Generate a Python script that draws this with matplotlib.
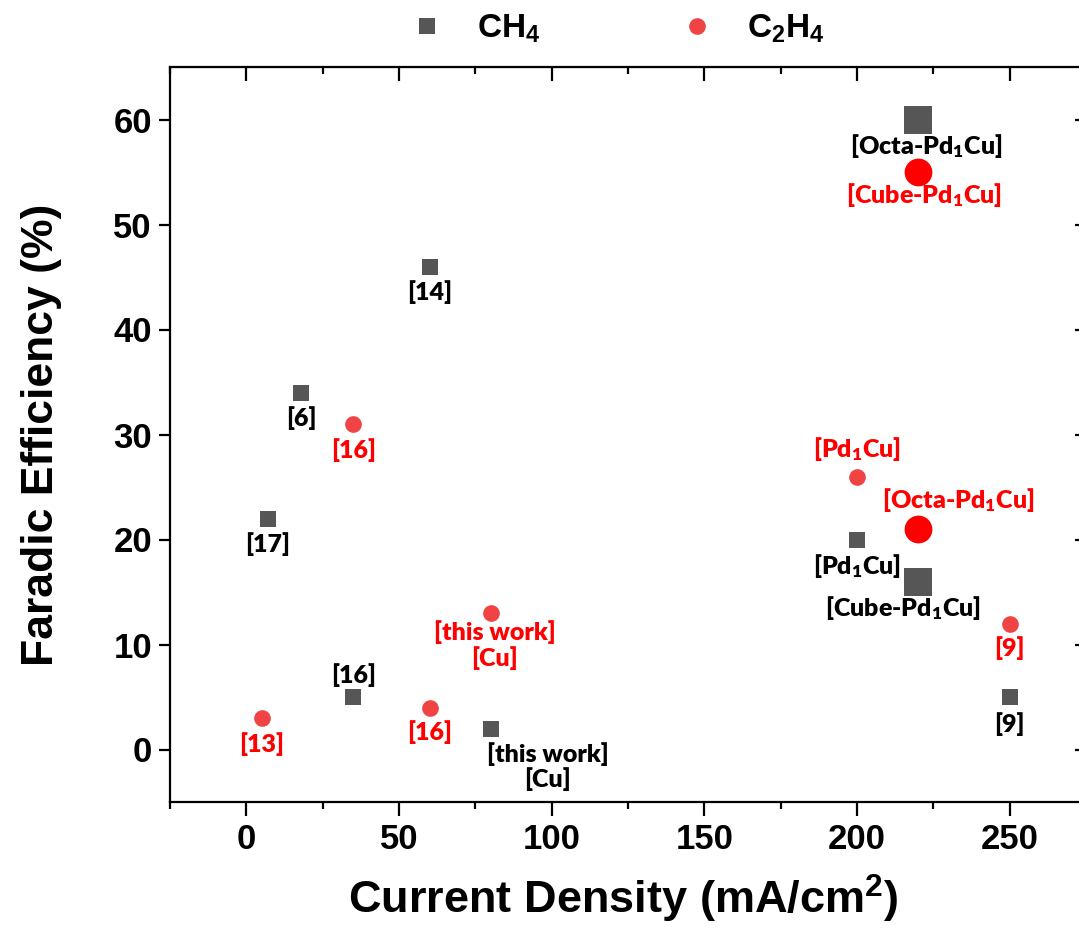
import numpy as np
import matplotlib
matplotlib.use("Agg")
import matplotlib.pyplot as plt
from matplotlib.ticker import MultipleLocator

# data
ch4_x = [18, 7, 60, 35, 80, 200, 220, 220, 250]
ch4_y = [34, 22, 46, 5, 2, 20, 16, 60, 5]
ch4_lbl = ["[6]", "[17]", "[14]", "[16]", "[this work]\n[Cu]", "[Pd$\\mathdefault{_1}$Cu]",
           "[Cube-Pd$\\mathdefault{_1}$Cu]", "[Octa-Pd$\\mathdefault{_1}$Cu]", "[9]"]
c2h4_x = [35, 5, 60, 80, 200, 220, 220, 250]
c2h4_y = [31, 3, 4, 13, 26, 21, 55, 12]
c2h4_lbl = ["[16]", "[13]", "[16]", "[this work]\n[Cu]", "[Pd$\\mathdefault{_1}$Cu]",
            "[Octa-Pd$\\mathdefault{_1}$Cu]", "[Cube-Pd$\\mathdefault{_1}$Cu]", "[9]"]

# label offsets in pixels (layout only)
ch4_off = [(0, -26), (0, -26), (0, -26), (0, 22), (57, -38), (0, -26), (-15, -27), (8, -26), (0, -27)]
c2h4_off = [(0, -26), (0, -26), (0, -25), (4, -32), (0, 28), (40, 29), (6, -23), (0, -25)]

plt.rcParams['font.family'] = ['Liberation Sans', 'DejaVu Sans']
plt.rcParams['font.weight'] = 'bold'
plt.rcParams['mathtext.fontset'] = 'custom'
plt.rcParams['mathtext.rm'] = 'Liberation Sans:bold'
plt.rcParams['mathtext.bf'] = 'Liberation Sans:bold'
plt.rcParams['mathtext.it'] = 'Liberation Sans:bold'

GRAY = '#565656'
RED_S = '#F04444'
RED_L = '#FF0000'

fig = plt.figure(figsize=(10.79, 9.34), dpi=100)
ax = fig.add_axes([170 / 1079, 132 / 934, 916 / 1079, 735 / 934])

def is_big(lbl):
    return ('Octa' in lbl) or ('Cube' in lbl)

big_ch4 = np.array([is_big(l) for l in ch4_lbl])
big_c2h4 = np.array([is_big(l) for l in c2h4_lbl])
cx, cy = np.array(ch4_x), np.array(ch4_y)
ex, ey = np.array(c2h4_x), np.array(c2h4_y)

ax.plot(cx[~big_ch4], cy[~big_ch4], 's', color=GRAY, ms=11.5, mew=0, ls='none', label='CH$_4$')
ax.plot(cx[big_ch4], cy[big_ch4], 's', color=GRAY, ms=19.5, mew=0, ls='none')
ax.plot(ex[~big_c2h4], ey[~big_c2h4], 'o', color=RED_S, ms=12, mew=0, ls='none', label='C$_2$H$_4$')
ax.plot(ex[big_c2h4], ey[big_c2h4], 'o', color=RED_L, ms=20, mew=0, ls='none')

for x, y, t, o in zip(ch4_x, ch4_y, ch4_lbl, ch4_off):
    ax.annotate(t, (x, y), xytext=o, textcoords='offset pixels', ha='center', va='center',
                family='Lato', weight='heavy', fontsize=18, color='black', linespacing=1.1)
for x, y, t, o in zip(c2h4_x, c2h4_y, c2h4_lbl, c2h4_off):
    ax.annotate(t, (x, y), xytext=o, textcoords='offset pixels', ha='center', va='center',
                family='Lato', weight='heavy', fontsize=18, color=RED_L, linespacing=1.1)

ax.set_xlim(-25, 275)
ax.set_ylim(-5, 65)
ax.xaxis.set_major_locator(MultipleLocator(50))
ax.xaxis.set_minor_locator(MultipleLocator(25))
ax.yaxis.set_major_locator(MultipleLocator(10))
for s in ax.spines.values():
    s.set_linewidth(1.6)

ax.tick_params(axis='x', which='both', bottom=True, top=False, direction='out', width=1.6,
               labelsize=25, pad=5)
ax.tick_params(axis='x', which='major', length=10)
ax.tick_params(axis='x', which='minor', length=5)
ax.tick_params(axis='y', which='major', left=True, right=False, direction='out', length=8, width=1.6,
               labelsize=25, pad=5)

# top and right ticks point inward
sx = ax.secondary_xaxis('top')
sx.xaxis.set_major_locator(MultipleLocator(50))
sx.xaxis.set_minor_locator(MultipleLocator(25))
sx.tick_params(which='both', direction='in', width=1.6, labeltop=False)
sx.tick_params(which='major', length=10)
sx.tick_params(which='minor', length=5)
sy = ax.secondary_yaxis('right')
sy.yaxis.set_major_locator(MultipleLocator(10))
sy.tick_params(direction='in', length=8, width=1.6, labelright=False)

ax.set_xlabel('Current Density (mA/cm$^{2}$)', fontsize=32.5, fontweight='bold')
ax.set_ylabel('Faradic Efficiency (%)', fontsize=32, fontweight='bold')
ax.xaxis.set_label_coords(0.5 - 5 / 916, -0.096)
ax.yaxis.set_label_coords(-0.118, 0.5)

fig.legend(loc='center', bbox_to_anchor=(617 / 1079, 1 - 29 / 934), ncol=2, frameon=False,
           prop={'weight': 'bold', 'size': 24}, handlelength=1.0, handletextpad=1.0,
           columnspacing=4.2, markerscale=1.0)

fig.savefig('out.png', dpi=100)
